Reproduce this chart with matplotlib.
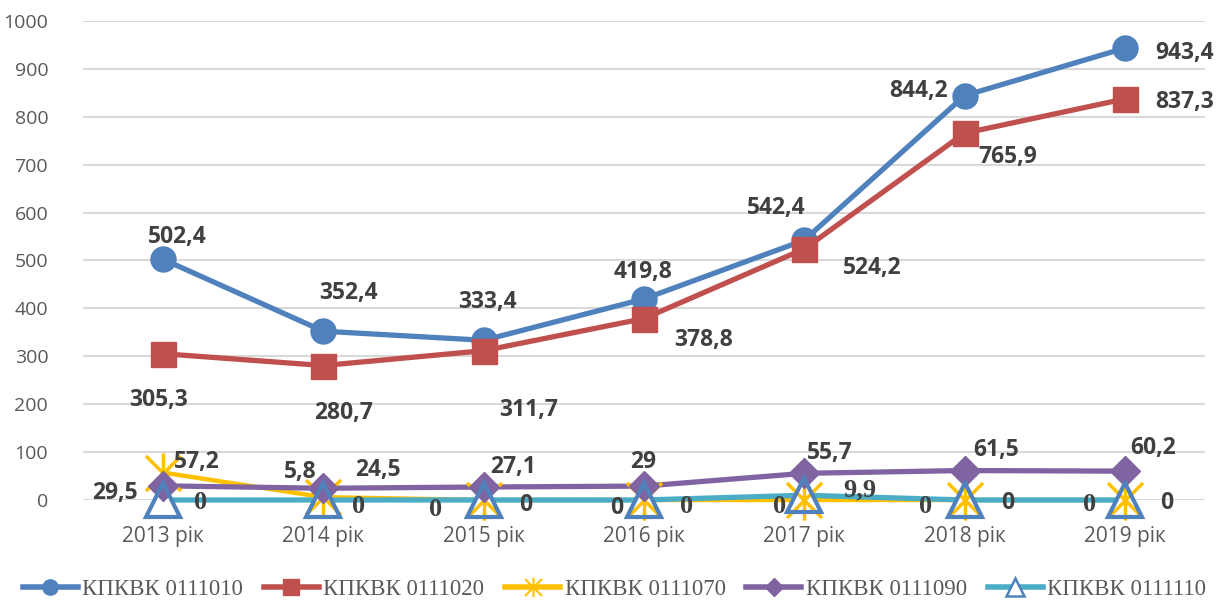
import matplotlib
matplotlib.use('Agg')
import matplotlib.pyplot as plt
from matplotlib.path import Path
from matplotlib.lines import Line2D

years = ['2013 рік', '2014 рік', '2015 рік', '2016 рік', '2017 рік', '2018 рік', '2019 рік']
names = ['КПКВК 0111010', 'КПКВК 0111020', 'КПКВК 0111070', 'КПКВК 0111090', 'КПКВК 0111110']
s1010 = [502.4, 352.4, 333.4, 419.8, 542.4, 844.2, 943.4]
s1020 = [305.3, 280.7, 311.7, 378.8, 524.2, 765.9, 837.3]
s1070 = [57.2, 5.8, 0, 0, 0, 0, 0]
s1090 = [29.5, 24.5, 27.1, 29, 55.7, 61.5, 60.2]
s1110 = [0, 0, 0, 0, 9.9, 0, 0]

# label offsets in pixels (dx, dy)
off1010 = [(14, 22), (25, 38), (4, 38), (-1, 27), (-28, 32), (-46, 5), (60, -5)]
off1020 = [(-5, -46), (20, -47), (45, -59), (60, -21), (68, -19), (43, -24), (60, -3)]
off1070 = [(34, 11), (-23, 25), (-48, -10), (-27, -8), (-25, -7), (-39, -7), (-35, -5)]
off1090 = [(-48, -7), (55, 18), (29, 20), (-1, 24), (26, 20), (32, 21), (28, 23)]
off1110 = [(37, -3), (35, -7), (42, -5), (43, -7), (56, 5), (43, -3), (42, -3)]
serif1070 = [False, False, True, False, True, True, True]
serif1110 = [True, True, False, True, True, False, False]

star = Path([(-1, -1), (1, 1), (-1, 1), (1, -1), (0, -1.15), (0, 1.15)],
            [Path.MOVETO, Path.LINETO, Path.MOVETO, Path.LINETO, Path.MOVETO, Path.LINETO])

fig = plt.figure(figsize=(12.29, 6.07), dpi=100)
ax = fig.add_axes([0.0675, 0.1763, 0.913, 0.7891])
x = list(range(len(years)))

# lines first, then markers on top (like Excel)
ax.plot(x, s1010, color='#4F81BD', lw=3.8, zorder=2)
ax.plot(x, s1020, color='#C0504D', lw=3.8, zorder=2)
ax.plot(x, s1070, color='#FFC000', lw=3.2, zorder=2, clip_on=False)
ax.plot(x, s1090, color='#8064A2', lw=3.8, zorder=2.1)
ax.plot(x, s1110, color='#4BACC6', lw=3.8, zorder=2.2, clip_on=False)

mk = dict(ls='none', clip_on=False)
ax.plot(x, s1010, marker='o', ms=18, color='#4F81BD', zorder=3, **mk)
ax.plot(x, s1020, marker='s', ms=18, color='#C0504D', zorder=3, **mk)
ax.plot(x, s1110, marker='^', ms=24, mfc='white', mec='none', zorder=3.1, **mk)
ax.plot(x, s1070, marker=star, ms=29, mew=2.5, color='#FFC000', zorder=3.2, **mk)
ax.plot(x, s1090, marker='D', ms=15, color='#8064A2', zorder=3.3, **mk)
ax.plot(x, s1110, marker='^', ms=24, mfc='none', mec='#4F81BD', mew=3, zorder=3.4, **mk)

lab_kw = dict(textcoords='offset pixels', ha='center', va='center', color='#404040', zorder=6)
sans = dict(family='Open Sans', weight='bold', size=16.5)
serif = dict(family='Liberation Serif', weight='bold', size=19)


def fmt(v):
    return ('%g' % v).replace('.', ',')


for vals, offs in [(s1010, off1010), (s1020, off1020), (s1090, off1090)]:
    for i, v in enumerate(vals):
        ax.annotate(fmt(v), (i, v), xytext=offs[i], **sans, **lab_kw)
for vals, offs, flags in [(s1070, off1070, serif1070), (s1110, off1110, serif1110)]:
    for i, v in enumerate(vals):
        f = serif if flags[i] else sans
        ax.annotate(fmt(v), (i, v), xytext=offs[i], **f, **lab_kw)

ax.set_xlim(-0.5, 6.5)
ax.set_ylim(0, 1000)
ax.set_yticks(range(0, 1001, 100))
ax.set_xticks(x)
ax.set_xticklabels(years)
ax.grid(axis='y', color='#D9D9D9', lw=1.5, zorder=0)
ax.set_axisbelow(True)
for sp in ax.spines.values():
    sp.set_visible(False)
ax.tick_params(length=0, labelsize=14, labelcolor='#595959')
ax.tick_params(axis='y', pad=25)
ax.tick_params(axis='x', pad=19, labelsize=15)
for t in ax.get_xticklabels() + ax.get_yticklabels():
    t.set_family('Open Sans')

handles = [
    Line2D([], [], color='#4F81BD', lw=4, marker='o', ms=11),
    Line2D([], [], color='#C0504D', lw=4, marker='s', ms=11),
    Line2D([], [], color='#FFC000', lw=4, marker=star, ms=14, mew=1.5),
    Line2D([], [], color='#8064A2', lw=4, marker='D', ms=9),
    Line2D([], [], color='#4BACC6', lw=4, marker='^', ms=13, mfc='white', mec='#4F81BD', mew=1.8),
]
fig.legend(handles, names, loc='lower center', bbox_to_anchor=(0.5, -0.022), ncol=5, frameon=False,
           handlelength=2.4, columnspacing=0.9, handletextpad=0.2,
           prop={'family': 'Liberation Serif', 'size': 16.5}, labelcolor='#595959')

plt.savefig('out.png', dpi=100)
plt.close()
